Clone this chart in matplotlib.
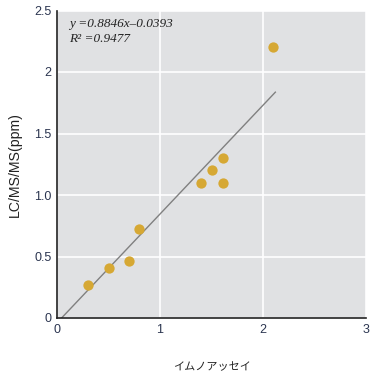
import matplotlib
matplotlib.use("Agg")
import matplotlib.pyplot as plt
from matplotlib.ticker import FixedLocator, FixedFormatter

immuno = [0.30, 0.50, 0.70, 0.80, 1.40, 1.50, 1.61, 1.61, 2.10]
lcms = [0.27, 0.41, 0.46, 0.72, 1.10, 1.20, 1.30, 1.10, 2.20]
slope = 0.8846
intercept = -0.0393
line_x = [-intercept / slope, 2.12]
x_ticks = [0, 1, 2, 3]
y_ticks = [0, 0.5, 1.0, 1.5, 2, 2.5]
y_tick_labels = ["0", "0.5", "1.0", "1.5", "2", "2.5"]

plt.rcParams['font.family'] = ['Liberation Sans', 'Noto Sans CJK JP', 'DejaVu Sans']

fig = plt.figure(figsize=(3.73, 3.72), dpi=100)
ax = fig.add_axes([57/373, 54/372, 309/373, 307.5/372])
ax.set_facecolor('#e0e1e3')
ax.set_xlim(0, 3)
ax.set_ylim(0, 2.5)
ax.xaxis.set_major_locator(FixedLocator(x_ticks))
ax.yaxis.set_major_locator(FixedLocator(y_ticks))
ax.yaxis.set_major_formatter(FixedFormatter(y_tick_labels))
ax.grid(True, color='white', linewidth=1.2)
ax.set_axisbelow(True)
for s in ['top', 'right']:
    ax.spines[s].set_visible(False)
for s in ['left', 'bottom']:
    ax.spines[s].set_color('#222222')
    ax.spines[s].set_linewidth(1.2)
ax.tick_params(length=0, labelsize=9, labelcolor='#2b3550', pad=4)

ax.plot(line_x, [slope * v + intercept for v in line_x], color='#808080', linewidth=1.0, zorder=2)
ax.scatter(immuno, lcms, s=55, color='#d6a834', zorder=3, linewidths=0)

ax.text(0.04, 0.955, "y =0.8846x–0.0393", transform=ax.transAxes, family='Liberation Serif',
        style='italic', fontsize=9.5, color='#222222', va='center')
ax.text(0.04, 0.908, "R² =0.9477", transform=ax.transAxes, family='Liberation Serif',
        style='italic', fontsize=9.5, color='#222222', va='center')

ax.set_xlabel("イムノアッセイ", fontsize=8, color='#222222', labelpad=19,
              family=['Noto Sans CJK JP', 'DejaVu Sans'])
ax.set_ylabel("LC/MS/MS(ppm)", fontsize=10.2, color='#222222', labelpad=9)

fig.savefig("out.png", dpi=100)
